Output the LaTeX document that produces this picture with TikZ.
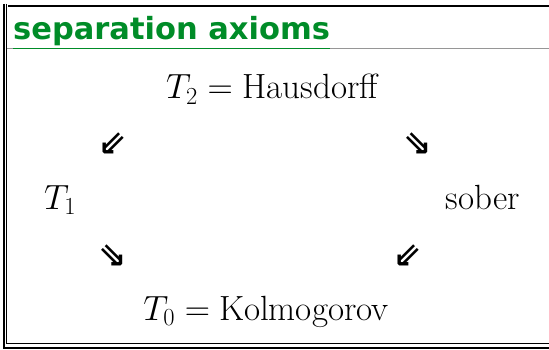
\RequirePackage{fix-cm}
\documentclass[tikz,border=0pt]{standalone}
\usepackage{amsmath}
\usepackage{fontspec}
\newfontfamily\headfont{DejaVu Sans}
\newfontfamily\arrowfont{DejaVu Sans}
\usetikzlibrary{positioning}
\definecolor{headgreen}{RGB}{0,140,40}
\definecolor{rulegray}{RGB}{150,150,150}

\begin{document}
\begin{tikzpicture}[x=1pt, y=-1pt,
  lbl/.style={inner sep=0pt, font=\fontsize{35}{40}\selectfont},
  imp/.style={inner sep=0pt, font=\arrowfont\bfseries\fontsize{34}{36}\selectfont},
  head/.style={inner sep=0pt, anchor=base west, text=headgreen,
               font=\headfont\bfseries\fontsize{30.5}{36}\selectfont},
  outer/.style={line width=1.8pt, black},
  inner/.style={line width=1pt, black}
]
\useasboundingbox (0,0) rectangle (549,350);
% frame
\draw[outer] (3.8,4) -- (3.8,348.3) -- (549,348.3);
\draw[inner] (6.8,4) -- (6.8,343) -- (549,343);
\draw[outer] (8,5.8) -- (549,5.8);
\coordinate (rl) at (0,48.5);
\draw[rulegray, line width=1.5pt] (6.8,48.5) -- (549,48.5);
% heading
\node[head] (hd) at (13,40) {separation axioms};
\draw[headgreen, line width=1.5pt] (hd.west |- rl) -- (hd.east |- rl);
% axioms
\node[lbl, anchor=base] (t2) at (272,99) {$T_2 = \text{Hausdorff}$};
\node[lbl, anchor=base west] (t1) at (44,209) {$T_1$};
\node[lbl, anchor=base east] (sb) at (520,209) {sober};
\node[lbl, anchor=base] (t0) at (266,320) {$T_0 = \text{Kolmogorov}$};
% implications
\node[imp] (a1) at (113,144) {⇙};
\node[imp] (a2) at (418,144) {⇘};
\node[imp] (a3) at (113,256) {⇘};
\node[imp] (a4) at (408,256) {⇙};
\end{tikzpicture}
\end{document}
